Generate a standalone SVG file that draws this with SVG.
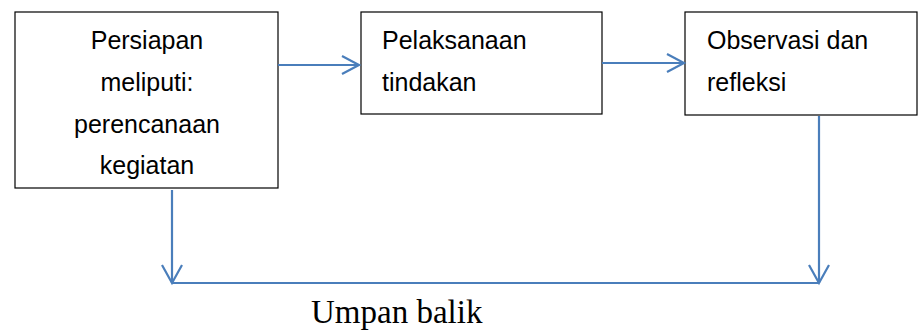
<svg xmlns="http://www.w3.org/2000/svg" width="918" height="331" viewBox="0 0 918 331">
  <style>
    .box { fill: #ffffff; stroke: #000000; stroke-width: 1.2; }
    .lbl { font-family: "Liberation Sans", Arial, sans-serif; font-size: 25px; fill: #000000; }
    .conn { fill: none; stroke: #4a7ebb; stroke-width: 2.2; stroke-linecap: butt; stroke-linejoin: miter; }
    .cap { font-family: "Liberation Serif", "Times New Roman", serif; font-size: 33px; fill: #000000; }
  </style>
  <rect width="918" height="331" fill="#ffffff"/>
  <g id="node-persiapan">
    <rect class="box" x="15" y="12" width="263" height="176"/>
    <text class="lbl" x="147" y="49" text-anchor="middle">Persiapan</text>
    <text class="lbl" x="147" y="91" text-anchor="middle">meliputi:</text>
    <text class="lbl" x="147" y="133" text-anchor="middle">perencanaan</text>
    <text class="lbl" x="147" y="174" text-anchor="middle">kegiatan</text>
  </g>
  <g id="node-pelaksanaan">
    <rect class="box" x="361" y="12" width="241" height="102"/>
    <text class="lbl" x="382" y="49">Pelaksanaan</text>
    <text class="lbl" x="382" y="91">tindakan</text>
  </g>
  <g id="node-observasi">
    <rect class="box" x="685" y="12" width="232" height="103"/>
    <text class="lbl" x="707" y="49">Observasi dan</text>
    <text class="lbl" x="707" y="91">refleksi</text>
  </g>
  <g id="connectors">
    <path class="conn" d="M278,65 H359"/>
    <path class="conn" d="M342,56 L359,65 L342,74"/>
    <path class="conn" d="M602,63 H684"/>
    <path class="conn" d="M667,54 L684,63 L667,72"/>
    <path class="conn" d="M172,190 V283"/>
    <path class="conn" d="M162,265 L172,283 L182,265"/>
    <path class="conn" d="M819,116 V283"/>
    <path class="conn" d="M809,265 L819,283 L829,265"/>
    <path class="conn" d="M172,283 H819"/>
  </g>
  <g id="label-umpan-balik">
    <text class="cap" x="311" y="323">Umpan balik</text>
  </g>
</svg>
